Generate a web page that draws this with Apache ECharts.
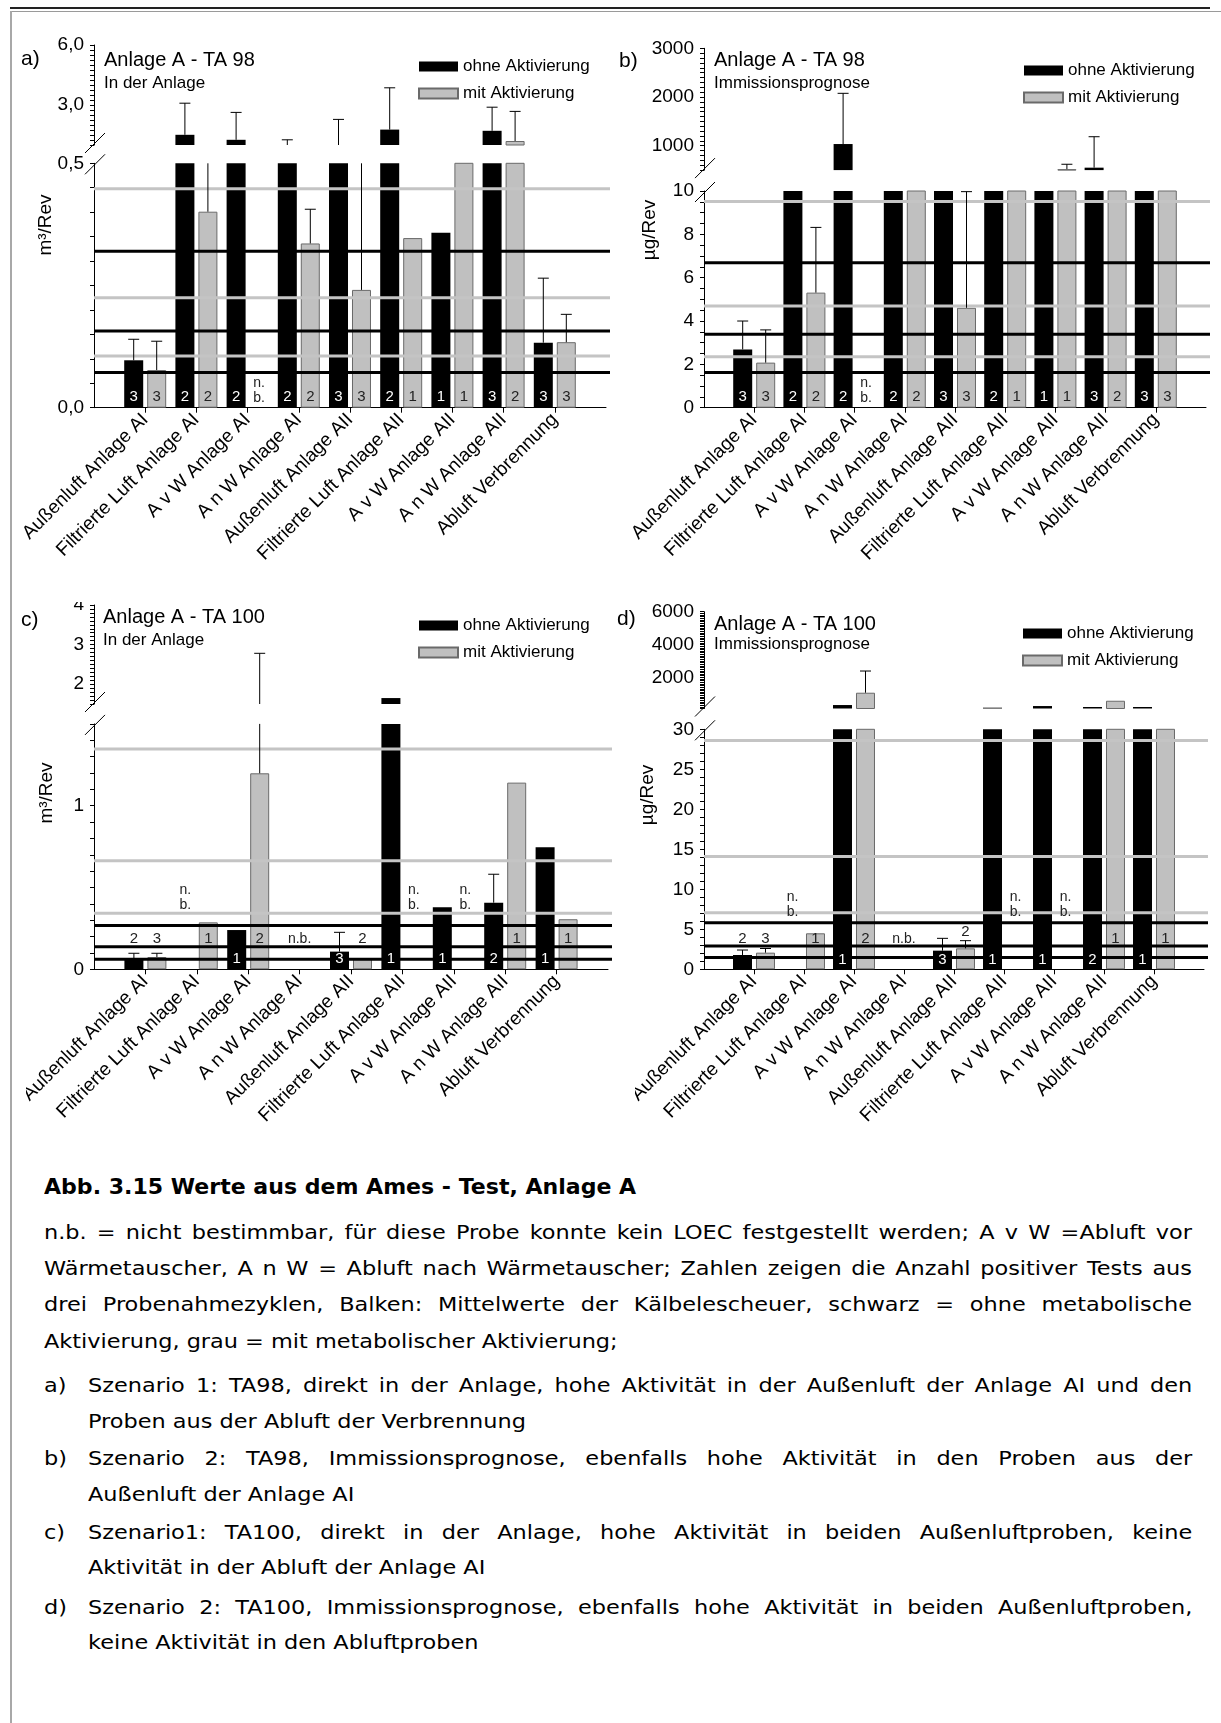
<!DOCTYPE html>
<html><head><meta charset="utf-8">
<script src="https://cdn.jsdelivr.net/npm/echarts@6/dist/echarts.min.js"></script>
<style>
html,body{margin:0;padding:0;background:#fff;}
body{width:1221px;height:1723px;position:relative;overflow:hidden;font-family:"Liberation Sans",Arial,sans-serif;}
.chart{position:absolute;}
.plabel{position:absolute;font-family:"Liberation Sans",Arial,sans-serif;font-size:21px;line-height:22px;color:#000;}
.cap{position:absolute;font-family:"DejaVu Sans",sans-serif;font-size:20px;line-height:36px;height:36px;color:#000;white-space:nowrap;transform:scaleX(1.12);transform-origin:0 0;}
.j{text-align:justify;text-align-last:justify;}
.w1{width:1025px;}
.w2{width:986px;}
.frame{position:absolute;}
</style></head><body>
<div class="frame" style="left:10px;top:7px;width:1200px;height:2px;background:#222;"></div>
<div class="frame" style="left:10px;top:11px;width:1211px;height:1px;background:#9a9a9a;"></div>
<div class="frame" style="left:10px;top:11px;width:2px;height:1712px;background:#a8a8a8;"></div>

<div id="ca" class="chart" style="left:24px;top:20px;width:586px;height:560px;"></div>
<div id="cb" class="chart" style="left:628px;top:20px;width:593px;height:560px;"></div>
<div id="cc" class="chart" style="left:26px;top:602px;width:590px;height:540px;"></div>
<div id="cd" class="chart" style="left:635px;top:595px;width:586px;height:545px;"></div>

<div class="plabel" style="left:21px;top:47px;">a)</div>
<div class="plabel" style="left:619px;top:49px;">b)</div>
<div class="plabel" style="left:21px;top:608px;">c)</div>
<div class="plabel" style="left:617px;top:607px;">d)</div>

<div class="cap" style="left:44px;top:1169px;font-weight:bold;font-size:21px;transform:scaleX(1.05);">Abb. 3.15 Werte aus dem Ames - Test, Anlage A</div>
<div class="cap j w1" style="left:44px;top:1214px;">n.b. = nicht bestimmbar, für diese Probe konnte kein LOEC festgestellt werden; A v W =Abluft vor</div>
<div class="cap j w1" style="left:44px;top:1250px;">Wärmetauscher, A n W = Abluft nach Wärmetauscher; Zahlen zeigen die Anzahl positiver Tests aus</div>
<div class="cap j w1" style="left:44px;top:1286px;">drei Probenahmezyklen, Balken: Mittelwerte der Kälbelescheuer, schwarz = ohne metabolische</div>
<div class="cap" style="left:44px;top:1323px;">Aktivierung, grau = mit metabolischer Aktivierung;</div>
<div class="cap" style="left:44px;top:1367px;">a)</div>
<div class="cap j w2" style="left:88px;top:1367px;">Szenario 1: TA98, direkt in der Anlage, hohe Aktivität in der Außenluft der Anlage AI und den</div>
<div class="cap" style="left:88px;top:1403px;">Proben aus der Abluft der Verbrennung</div>
<div class="cap" style="left:44px;top:1440px;">b)</div>
<div class="cap j w2" style="left:88px;top:1440px;">Szenario 2: TA98, Immissionsprognose, ebenfalls hohe Aktivität in den Proben aus der</div>
<div class="cap" style="left:88px;top:1476px;">Außenluft der Anlage AI</div>
<div class="cap" style="left:44px;top:1514px;">c)</div>
<div class="cap j w2" style="left:88px;top:1514px;">Szenario1: TA100, direkt in der Anlage, hohe Aktivität in beiden Außenluftproben, keine</div>
<div class="cap" style="left:88px;top:1549px;">Aktivität in der Abluft der Anlage AI</div>
<div class="cap" style="left:44px;top:1589px;">d)</div>
<div class="cap j w2" style="left:88px;top:1589px;">Szenario 2: TA100, Immissionsprognose, ebenfalls hohe Aktivität in beiden Außenluftproben,</div>
<div class="cap" style="left:88px;top:1624px;">keine Aktivität in den Abluftproben</div>

<script>
// ---------------- DATA ----------------
const categories = ['Außenluft Anlage AI', 'Filtrierte Luft Anlage AI', 'A v W Anlage AI', 'A n W Anlage AI',
  'Außenluft Anlage AII', 'Filtrierte Luft Anlage AII', 'A v W Anlage AII', 'A n W Anlage AII', 'Abluft Verbrennung'];
const legendNames = ['ohne Aktivierung', 'mit Aktivierung'];

// a) TA 98, in der Anlage (m³/Rev)
const aBlack    = [0.097, 1.51, 1.26, 0.8, 0.8, 1.77, 0.358, 1.71, 0.133];
const aBlackErr = [0.14, 3.09, 2.63, 1.26, 2.28, 3.86, null, 2.89, 0.265];
const aGray     = [0.077, 0.401, null, 0.336, 0.241, 0.347, 0.8, 1.2, 0.134];
const aGrayErr  = [0.136, 0.8, null, 0.406, 0.9, null, null, 2.68, 0.191];
const aBlackN   = [3, 2, 2, 2, 3, 2, 1, 3, 3];
const aGrayN    = [3, 2, null, 2, 3, 1, 1, 2, 3];
const aLinesBlack = [0.32, 0.157, 0.072];
const aLinesGray  = [0.448, 0.225, 0.106];
const aLowerTicks = [0, 0.5];
const aUpperTicks = [3, 6];

// b) TA 98, Immissionsprognose (µg/Rev)
const bBlack    = [2.69, 200, 1035, 200, 200, 200, 200, 550, 200];
const bBlackErr = [4.0, null, 2076, null, null, null, null, 1185, null];
const bGray     = [2.08, 5.31, null, 200, 4.61, 200, 520, 200, 200];
const bGrayErr  = [3.59, 8.32, null, null, 9.97, null, 620, null, null];
const bBlackN   = [3, 2, 2, 2, 3, 2, 1, 3, 3];
const bGrayN    = [3, 2, null, 2, 3, 1, 1, 2, 3];
const bLinesBlack = [6.69, 3.39, 1.63];
const bLinesGray  = [9.51, 4.69, 2.35];
const bLowerTicks = [0, 2, 4, 6, 8, 10];
const bUpperTicks = [1000, 2000, 3000];

// c) TA 100, in der Anlage (m³/Rev)
const cBlack    = [0.063, null, 0.24, null, 0.108, 1.65, 0.379, 0.407, 0.746];
const cBlackErr = [0.098, null, null, null, 0.226, null, null, 0.581, null];
const cGray     = [0.075, 0.287, 1.198, null, 0.063, null, null, 1.141, 0.306];
const cGrayErr  = [0.098, null, 2.78, null, null, null, null, null, null];
const cBlackN   = [2, null, 1, null, 3, 1, 1, 2, 1];
const cGrayN    = [3, 1, 2, null, 2, null, null, 1, 1];
const cLinesBlack = [0.267, 0.138, 0.061];
const cLinesGray  = [1.347, 0.664, 0.342];
const cLowerTicks = [0, 1];
const cUpperTicks = [2, 3, 4];

// d) TA 100, Immissionsprognose (µg/Rev)
const dBlack    = [1.79, null, 311, null, 2.33, 150, 250, 190, 190];
const dBlackErr = [2.41, null, null, null, 3.87, null, null, null, null];
const dGray     = [2.08, 4.5, 1061, null, 2.62, null, null, 573, 130];
const dGrayErr  = [2.6, null, 2384, null, 3.58, null, null, null, null];
const dBlackN   = [2, null, 1, null, 3, 1, 1, 2, 1];
const dGrayN    = [3, 1, 2, null, 2, null, null, 1, 1];
const dLinesBlack = [5.83, 2.91, 1.46];
const dLinesGray  = [28.6, 14.1, 7.08];
const dLowerTicks = [0, 5, 10, 15, 20, 25, 30];
const dUpperTicks = [2000, 4000, 6000];

// ---------------- BUILDER ----------------
const FONT = '"Liberation Sans", Arial, Helvetica, sans-serif';
const commaFmt = v => v.toFixed(1).replace('.', ',');
const intFmt = v => String(v);

function build(id, P) {
  const chart = echarts.init(document.getElementById(id), null, {renderer: 'canvas'});
  const cats = [''].concat(categories, ['']);
  const BW = 19, GAP = 4, OFF = (BW + GAP) / 2;
  const pad = v => [null].concat(v, [null]);
  const fmtList = list => v => {
    const t = list.find(t => Math.abs(v - t) < 1e-7);
    return t === undefined ? '' : P.fmt(t);
  };
  const yAxis = (ax, gi) => ({
    type: 'value', gridIndex: gi, min: ax.min, max: ax.max, interval: ax.interval,
    axisLine: {show: true, lineStyle: {color: '#000', width: 1}},
    axisTick: {show: true, length: 4, lineStyle: {color: '#000', width: 1}},
    minorTick: {show: false},
    splitLine: {show: false},
    axisLabel: {show: true, formatter: fmtList(ax.labels), fontSize: 19, fontFamily: FONT, color: '#000', margin: 10,
      showMinLabel: true, showMaxLabel: true}
  });

  // error bar data
  const errData = [];
  P.black.forEach((v, i) => { if (P.blackErr[i] != null) errData.push([i + 1, v, P.blackErr[i], -1]); });
  P.gray.forEach((v, i) => { if (P.grayErr[i] != null) errData.push([i + 1, v, P.grayErr[i], 1]); });
  const errSeries = (gi) => ({
    type: 'custom', xAxisIndex: gi, yAxisIndex: gi, z: 4, silent: true, animation: false,
    data: errData,
    renderItem: (params, api) => {
      const cs = params.coordSys;
      const c = api.value(0);
      const x = api.coord([c, 0])[0] + api.value(3) * OFF;
      const yv = api.coord([c, api.value(1)])[1];
      const ye = api.coord([c, api.value(2)])[1];
      const top = cs.y, bot = cs.y + cs.height;
      const cl = y => Math.min(Math.max(y, top), bot);
      const y1 = cl(yv), y2 = cl(ye);
      const ch = [];
      if (Math.abs(y1 - y2) > 0.3) ch.push({type: 'line', shape: {x1: x, y1: y1, x2: x, y2: y2}, style: {stroke: '#000', lineWidth: 1}});
      if (ye >= top - 0.5 && ye <= bot) ch.push({type: 'line', shape: {x1: x - 5.5, y1: ye, x2: x + 5.5, y2: ye}, style: {stroke: '#000', lineWidth: 1}});
      return {type: 'group', children: ch};
    }
  });

  // reference lines
  const refData = P.linesGray.map(v => [0, v, 1]).concat(P.linesBlack.map(v => [0, v, 0]));

  // count / n.b. labels
  const labels = [];
  for (let i = 0; i < categories.length; i++) {
    const cat = i + 1;
    const bV = P.black[i], gV = P.gray[i];
    if (bV == null && gV == null) { labels.push({cat, side: 0, text: 'n.b.', mode: 'nb1'}); continue; }
    if (bV == null) labels.push({cat, side: -1, text: 'n.\nb.', mode: 'nb2'});
    else if (P.blackN[i] != null) labels.push({cat, side: -1, text: String(P.blackN[i]), mode: 'black', val: bV, err: P.blackErr[i]});
    if (gV == null) labels.push({cat, side: 1, text: 'n.\nb.', mode: 'nb2'});
    else if (P.grayN[i] != null) labels.push({cat, side: 1, text: String(P.grayN[i]), mode: 'gray', val: gV, err: P.grayErr[i]});
  }
  const L = P.lab;

  const ub = P.upper.top + P.upper.height, lt = P.lower.top, ax = P.left;
  const slash = (cx, cy) => ({type: 'line', silent: true, shape: {x1: cx - 10, y1: cy + 10, x2: cx + 10, y2: cy - 10},
    style: {stroke: '#000', lineWidth: 1}});
  const txt = (x, y, text, size, extra) => Object.assign({type: 'text', x: x, y: y, silent: true,
    style: {text: text, fontSize: size, fontFamily: FONT, fill: '#000', align: 'left', textAlign: 'left',
      verticalAlign: 'middle', textVerticalAlign: 'middle'}}, extra || {});

  const option = {
    animation: false,
    backgroundColor: 'transparent',
    textStyle: {fontFamily: FONT, color: '#000'},
    grid: [
      {left: P.left, width: P.width, top: P.lower.top, height: P.lower.height, containLabel: false, outerBoundsMode: 'none', show: false},
      {left: P.left, width: P.width, top: P.upper.top, height: P.upper.height, containLabel: false, outerBoundsMode: 'none', show: false}
    ],
    legend: {
      data: legendNames, orient: 'vertical', left: P.legend.left, top: P.legend.top,
      itemWidth: 39, itemHeight: 10, itemGap: 10, icon: 'rect', selectedMode: false, padding: 0,
      textStyle: {fontSize: 17, fontFamily: FONT, color: '#000'}
    },
    xAxis: [
      {type: 'category', gridIndex: 0, data: cats, boundaryGap: false,
        axisLine: {show: true, onZero: false, lineStyle: {color: '#000', width: 1}},
        axisTick: {show: true, length: 5, interval: (i) => i > 0 && i < cats.length - 1, lineStyle: {color: '#000', width: 1}},
        axisLabel: {show: true, interval: 0, rotate: 45, fontSize: 19, fontFamily: FONT, color: '#000', margin: 9},
        splitLine: {show: false}},
      {type: 'category', gridIndex: 1, data: cats, boundaryGap: false, show: false}
    ],
    yAxis: [yAxis(P.lower, 0), yAxis(P.upper, 1)],
    graphic: [
      txt(P.title.x, P.title.y, P.title.text, 20),
      txt(P.sub.x, P.sub.y, P.sub.text, 17),
      txt(P.yname.x, P.yname.y, P.yname.text, 18, {rotation: Math.PI / 2,
        style: {text: P.yname.text, fontSize: 19, fontFamily: FONT, fill: '#000', align: 'center', textAlign: 'center',
          verticalAlign: 'middle', textVerticalAlign: 'middle'}}),
      slash(ax + 1, ub - 2),
      slash(ax + 1, lt + 1)
    ],
    series: [
      {type: 'bar', name: legendNames[0], xAxisIndex: 0, yAxisIndex: 0, data: pad(P.black), barWidth: BW, barGap: '21%',
        clip: true, z: 2, itemStyle: {color: '#000'}},
      {type: 'bar', name: legendNames[1], xAxisIndex: 0, yAxisIndex: 0, data: pad(P.gray), barWidth: BW, barGap: '21%',
        clip: true, z: 2, itemStyle: {color: '#c0c0c0', borderColor: '#6a6a6a', borderWidth: 1}},
      {type: 'bar', name: legendNames[0], xAxisIndex: 1, yAxisIndex: 1, data: pad(P.black), barWidth: BW, barGap: '21%',
        clip: true, z: 2, itemStyle: {color: '#000'}},
      {type: 'bar', name: legendNames[1], xAxisIndex: 1, yAxisIndex: 1, data: pad(P.gray), barWidth: BW, barGap: '21%',
        clip: true, z: 2, itemStyle: {color: '#c0c0c0', borderColor: '#6a6a6a', borderWidth: 1}},
      {type: 'custom', xAxisIndex: 0, yAxisIndex: 0, z: 3, silent: true, animation: false, data: refData,
        renderItem: (params, api) => {
          const cs = params.coordSys;
          const y = api.coord([0, api.value(1)])[1];
          return {type: 'line', shape: {x1: cs.x, y1: y, x2: cs.x + cs.width + 4, y2: y},
            style: {stroke: api.value(2) === 0 ? '#000' : '#c4c4c4', lineWidth: 3}};
        }},
      errSeries(0),
      errSeries(1),
      {type: 'custom', xAxisIndex: 0, yAxisIndex: 0, z: 6, silent: true, animation: false,
        data: labels.map(l => [l.cat, 0]),
        renderItem: (params, api) => {
          const d = labels[params.dataIndex];
          const p0 = api.coord([d.cat, 0]);
          const base = p0[1], x = p0[0] + d.side * OFF;
          const above = () => {
            let y = base - L.high;
            if (d.err != null) { const ye = api.coord([d.cat, d.err])[1]; y = Math.min(y, ye - 9); }
            return y;
          };
          let y, fill = '#222', fs = 15;
          if (d.mode === 'black') {
            const h = base - api.coord([d.cat, d.val])[1];
            if (h > L.minIn) { y = base - L.low; fill = '#fff'; } else { y = above(); }
          } else if (d.mode === 'gray') {
            const h = base - api.coord([d.cat, d.val])[1];
            if (L.grayInside) y = base - L.low;
            else if (h > L.high + 8) y = base - L.high;
            else y = above();
          } else if (d.mode === 'nb2') { y = base - L.nb2; fs = 14; }
          else { y = base - L.nb1; fs = 14; }
          return {type: 'text', x: x, y: y, style: {text: d.text, fill: fill, fontSize: fs, fontFamily: FONT,
            align: 'center', textAlign: 'center', verticalAlign: 'middle', textVerticalAlign: 'middle', lineHeight: 15}};
        }}
    ]
  };
  chart.setOption(option);
}

build('ca', {
  black: aBlack, blackErr: aBlackErr, gray: aGray, grayErr: aGrayErr, blackN: aBlackN, grayN: aGrayN,
  linesBlack: aLinesBlack, linesGray: aLinesGray, fmt: commaFmt,
  left: 70, width: 512,
  lower: {min: 0, max: 0.5, interval: 0.05, labels: aLowerTicks, top: 143.3, height: 244.4},
  upper: {min: 1, max: 6, interval: 0.25, labels: aUpperTicks, top: 25, height: 100},
  legend: {left: 394, top: 38},
  title: {x: 80, y: 40, text: 'Anlage A - TA 98'},
  sub: {x: 80, y: 63, text: 'In der Anlage'},
  yname: {x: 22, y: 205, text: 'm³/Rev'},
  lab: {low: 11, grayInside: true, minIn: 0, high: 30, nb2: 17, nb1: 30}
});
build('cb', {
  black: bBlack, blackErr: bBlackErr, gray: bGray, grayErr: bGrayErr, blackN: bBlackN, grayN: bGrayN,
  linesBlack: bLinesBlack, linesGray: bLinesGray, fmt: intFmt,
  left: 76, width: 502,
  lower: {min: 0, max: 10, interval: 0.5, labels: bLowerTicks, top: 171, height: 216.7},
  upper: {min: 500, max: 3000, interval: 100, labels: bUpperTicks, top: 28.3, height: 121.8},
  legend: {left: 395, top: 42},
  title: {x: 86, y: 40, text: 'Anlage A - TA 98'},
  sub: {x: 86, y: 63, text: 'Immissionsprognose'},
  yname: {x: 22, y: 210, text: 'µg/Rev'},
  lab: {low: 11, grayInside: true, minIn: 0, high: 30, nb2: 17, nb1: 30}
});
build('cc', {
  black: cBlack, blackErr: cBlackErr, gray: cGray, grayErr: cGrayErr, blackN: cBlackN, grayN: cGrayN,
  linesBlack: cLinesBlack, linesGray: cLinesGray, fmt: intFmt,
  left: 68, width: 514,
  lower: {min: 0, max: 1.5, interval: 0.1, labels: cLowerTicks, top: 121.9, height: 245.4},
  upper: {min: 1.5, max: 4, interval: 0.1, labels: cUpperTicks, top: 3, height: 99},
  legend: {left: 392, top: 15},
  title: {x: 77, y: 15, text: 'Anlage A - TA 100'},
  sub: {x: 77, y: 38, text: 'In der Anlage'},
  yname: {x: 21, y: 191, text: 'm³/Rev'},
  lab: {low: 10, grayInside: false, minIn: 16, high: 30, nb2: 72, nb1: 30}
});
build('cd', {
  black: dBlack, blackErr: dBlackErr, gray: dGray, grayErr: dGrayErr, blackN: dBlackN, grayN: dGrayN,
  linesBlack: dLinesBlack, linesGray: dLinesGray, fmt: intFmt,
  left: 69, width: 500,
  lower: {min: 0, max: 30, interval: 1, labels: dLowerTicks, top: 134.3, height: 240},
  upper: {min: 100, max: 6000, interval: 100, labels: dUpperTicks, top: 16.7, height: 96.8},
  legend: {left: 387, top: 30},
  title: {x: 79, y: 29, text: 'Anlage A - TA 100'},
  sub: {x: 79, y: 49, text: 'Immissionsprognose'},
  yname: {x: 13, y: 200, text: 'µg/Rev'},
  lab: {low: 9, grayInside: false, minIn: 16, high: 30, nb2: 65, nb1: 30}
});
</script>
</body></html>
